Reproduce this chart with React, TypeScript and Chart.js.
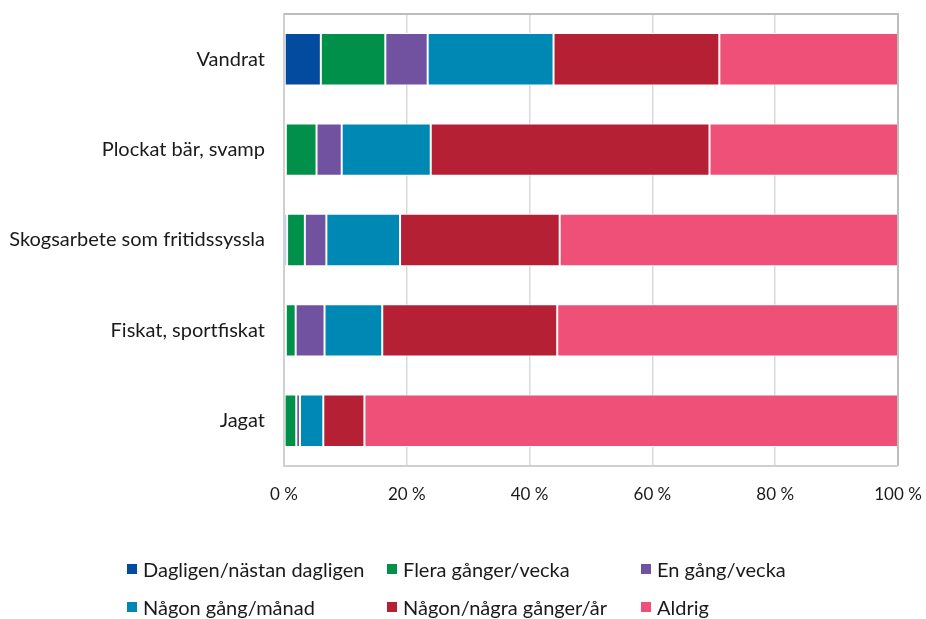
import React, { useEffect, useRef } from "react";
import { Chart, registerables } from "chart.js";

Chart.register(...registerables);

const categories = ["Vandrat", "Plockat bär, svamp", "Skogsarbete som fritidssyssla", "Fiskat, sportfiskat", "Jagat"];
const seriesNames = ["Dagligen/nästan dagligen", "Flera gånger/vecka", "En gång/vecka", "Någon gång/månad", "Någon/några gånger/år", "Aldrig"];
const dagligen = [6.0, 0.3, 0.5, 0.3, 0.1];
const flera = [10.5, 5.0, 2.9, 1.6, 1.9];
const enGang = [6.9, 4.1, 3.5, 4.7, 0.6];
const manad = [20.5, 14.5, 12.0, 9.4, 3.8];
const ar = [27.0, 45.4, 26.0, 28.5, 6.7];
const aldrig = [29.1, 30.7, 55.1, 55.5, 86.9];
const colors = ["#034B9F", "#00904A", "#7052A0", "#0088B4", "#B52034", "#EF5078"];
const xTicks = [0, 20, 40, 60, 80, 100];

const FONT = "Lato";

const borderPlugin = {
  id: "plotBorder",
  afterDraw(chart: any) {
    const { ctx, chartArea } = chart;
    ctx.save();
    ctx.strokeStyle = "#BDBDBD";
    ctx.lineWidth = 2;
    ctx.beginPath();
    ctx.moveTo(chartArea.left, chartArea.top);
    ctx.lineTo(chartArea.right, chartArea.top);
    ctx.lineTo(chartArea.right, chartArea.bottom);
    ctx.stroke();
    ctx.strokeStyle = "#D0D0D0";
    ctx.beginPath();
    ctx.moveTo(chartArea.left, chartArea.bottom);
    ctx.lineTo(chartArea.right, chartArea.bottom);
    ctx.stroke();
    ctx.restore();
  },
};

export default function App() {
  const ref = useRef<HTMLCanvasElement>(null);
  useEffect(() => {
    const values = [dagligen, flera, enGang, manad, ar, aldrig];
    const chart = new Chart(ref.current!, {
      type: "bar",
      data: {
        labels: categories,
        datasets: seriesNames.map((n, i) => ({
          label: n,
          data: values[i],
          backgroundColor: colors[i],
          borderColor: "#FFFFFF",
          borderWidth: 1,
          borderSkipped: false,
          barPercentage: 0.58,
          categoryPercentage: 1,
        })),
      },
      options: {
        indexAxis: "y",
        animation: false,
        responsive: false,
        maintainAspectRatio: false,
        layout: { padding: 0 },
        plugins: { legend: { display: false }, tooltip: { enabled: false } },
        scales: {
          x: {
            stacked: true,
            min: 0,
            max: 100,
            afterBuildTicks: (scale: any) => {
              scale.ticks = xTicks.map((v) => ({ value: v }));
            },
            afterFit: (scale: any) => {
              scale.height = 153;
              scale.paddingLeft = 0;
              scale.paddingRight = 28;
            },
            grid: { color: "#D9D9D9", lineWidth: 1.5, drawTicks: false },
            border: { display: false },
            ticks: {
              padding: 18,
              color: "#1A1A1A",
              font: { family: FONT, size: 17 },
              callback: (v: any) => `${v} %`,
            },
          },
          y: {
            stacked: true,
            afterFit: (scale: any) => {
              scale.width = 284;
              scale.paddingTop = 14;
              scale.paddingBottom = 0;
            },
            grid: { display: false, drawTicks: false },
            border: { display: true, color: "#D0D0D0", width: 2 },
            ticks: {
              padding: 19,
              color: "#1A1A1A",
              font: { family: FONT, size: 20 },
            },
          },
        },
      },
      plugins: [borderPlugin],
    });
    return () => chart.destroy();
  }, []);

  const legendPos = [
    [127, 558],
    [387, 558],
    [641, 558],
    [127, 596],
    [387, 596],
    [641, 596],
  ];

  return (
    <div style={{ position: "fixed", left: 0, top: 0, width: 926, height: 619, background: "#fff" }}>
      <canvas ref={ref} width={926} height={619} style={{ display: "block" }} />
      {seriesNames.map((n, i) => (
        <div
          key={n}
          style={{
            position: "absolute",
            left: legendPos[i][0],
            top: legendPos[i][1],
            height: 22,
            display: "flex",
            alignItems: "center",
            fontFamily: FONT,
            fontSize: 20,
            color: "#1A1A1A",
            whiteSpace: "nowrap",
          }}
        >
          <span style={{ display: "inline-block", width: 10, height: 10, background: colors[i], marginRight: 6 }} />
          {n}
        </div>
      ))}
    </div>
  );
}
